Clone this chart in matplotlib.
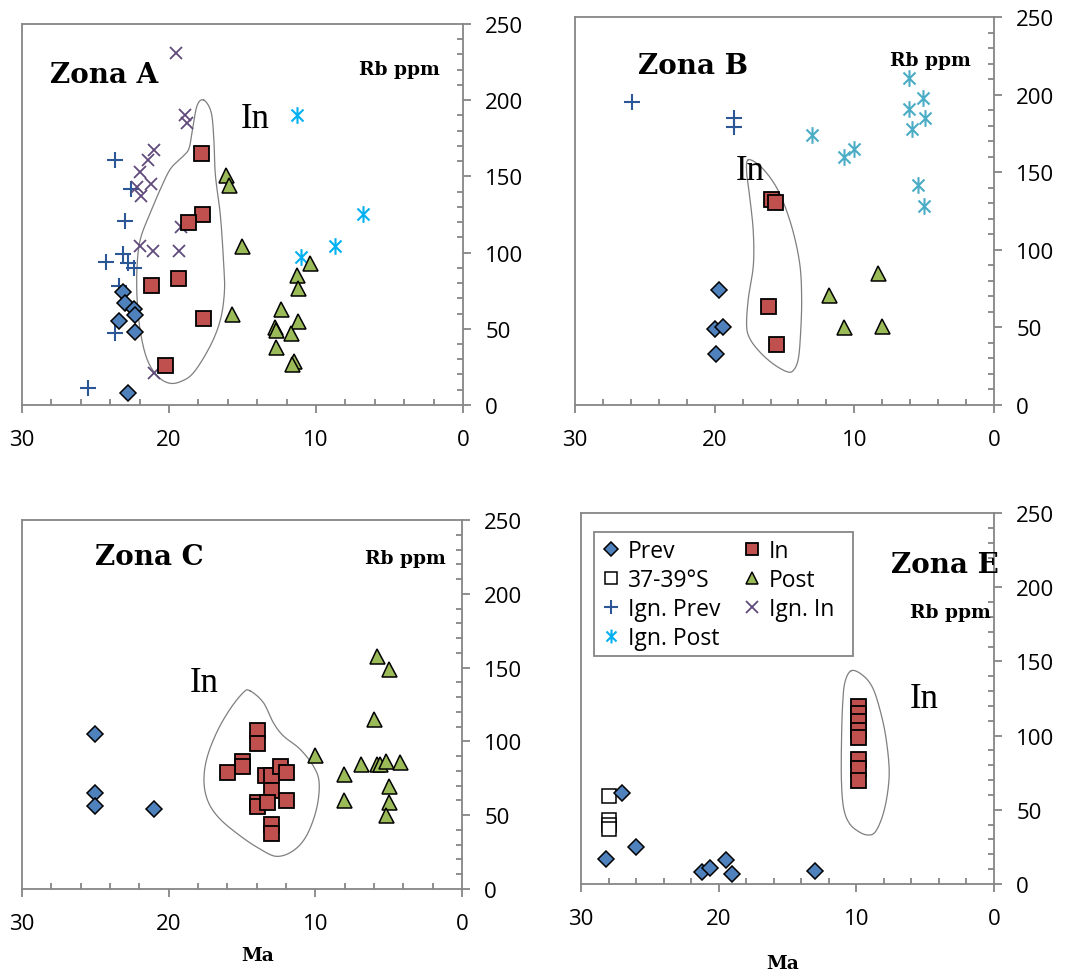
import numpy as np
import matplotlib
matplotlib.use("Agg")
import matplotlib.pyplot as plt
from matplotlib.path import Path
from matplotlib.lines import Line2D
from matplotlib.patches import Rectangle
from matplotlib.ticker import MultipleLocator

# ---------------- data ----------------
# Zona A
A_prev_x = [23.1, 23.0, 22.4, 22.3, 23.4, 22.3, 22.8]
A_prev_y = [74, 67, 63, 59, 55, 48, 8]
A_in_x = [17.8, 17.75, 18.7, 21.2, 19.4, 17.7, 20.3]
A_in_y = [165, 125, 120, 79, 83, 57, 26]
A_post_x = [16.1, 15.9, 15.0, 15.7, 10.4, 11.3, 11.2, 12.35, 11.2, 12.8, 12.75, 12.7, 11.7, 11.5, 11.6]
A_post_y = [151, 144, 104, 60, 93, 85, 77, 63, 55, 51, 49, 38, 47, 29, 27]
A_ignprev_x = [23.7, 22.6, 23.0, 23.1, 24.3, 22.8, 22.4, 23.4, 23.7, 25.5]
A_ignprev_y = [161, 142, 121, 99, 94, 93, 90, 78, 47, 11]
A_ignin_x = [19.5, 18.9, 18.8, 21.0, 21.4, 22.0, 21.2, 22.2, 21.9, 19.2, 22.0, 21.1, 19.3, 21.0]
A_ignin_y = [231, 190, 185, 167, 161, 153, 145, 143, 137, 117, 104, 101, 101, 21]
A_ignpost_x = [11.3, 6.8, 8.7, 11.05]
A_ignpost_y = [190, 125, 104, 97]
A_out_x = [17.63, 17.13, 16.95, 16.84, 16.50, 16.27, 16.23, 16.50, 17.18, 18.31, 19.22, 20.02,
           20.81, 21.49, 21.94, 22.17, 22.17, 21.94, 21.26, 20.58, 19.90, 19.11, 18.65, 18.43, 18.09]
A_out_y = [200, 192, 174.5, 150.5, 124, 91, 74, 56, 39, 21.4, 15.3, 14.4,
           19.2, 30, 47.7, 69.6, 91.4, 109, 126.4, 141.7, 154.9, 162.5, 168, 179, 196.4]

# Zona B
B_prev_x = [19.7, 20.0, 19.4, 19.9]
B_prev_y = [74, 49, 50, 33]
B_in_x = [16.0, 15.7, 16.2, 15.6]
B_in_y = [133, 131, 64, 39]
B_post_x = [8.33, 11.8, 10.74, 8.0]
B_post_y = [85, 71, 50, 51]
B_ignprev_x = [25.9, 18.6, 18.6]
B_ignprev_y = [195, 185, 179]
B_ignpost_x = [6.1, 5.06, 6.06, 4.94, 5.9, 13.0, 10.0, 10.74, 5.42, 4.99]
B_ignpost_y = [211, 198, 191, 185, 178, 174, 165, 160, 142, 128]
B_out_x = [17.59, 16.75, 15.80, 15.08, 14.37, 13.89, 13.77, 13.84, 14.01, 14.37, 14.84, 15.80,
           16.75, 17.47, 17.71, 17.59, 17.23, 17.23, 17.47, 17.71]
B_out_y = [158, 154, 143.6, 130.7, 111.3, 89.8, 68.4, 46.9, 29.7, 22.2, 21.5, 26.4,
           34.0, 42.6, 51.2, 68.4, 89.8, 111.3, 132.8, 150]

# Zona C
C_prev_x = [25.0, 25.0, 25.0, 21.0]
C_prev_y = [105, 65, 56, 54]
C_in_x = [14.0, 14.0, 15.0, 15.0, 16.0, 13.4, 13.0, 12.4, 12.0, 13.0, 14.0, 14.0, 13.3, 12.0, 13.0, 13.0]
C_in_y = [108, 99, 87, 83, 79, 77, 77, 83, 79, 67, 59, 56, 59, 60, 44, 38]
C_post_x = [5.77, 5.0, 6.0, 10.03, 8.03, 8.03, 6.9, 5.77, 5.56, 5.2, 4.2, 5.0, 5.0, 5.2]
C_post_y = [158, 149, 115, 91, 78, 60, 85, 85, 85, 87, 86, 70, 59, 50]
C_out_x = [14.46, 13.55, 12.87, 12.19, 11.05, 10.15, 9.74, 9.92, 10.60, 11.51, 12.64, 13.78,
           15.14, 16.50, 17.29, 17.59, 17.41, 16.73, 15.82, 14.91]
C_out_y = [134.3, 126.4, 112.8, 103.8, 94.8, 83.5, 72.2, 54.2, 36.1, 25.9, 22.1, 27.1,
           36.1, 47.4, 58.7, 72.2, 88.0, 106.0, 121.8, 133.1]

# Zona E
E_prev_x = [27.0, 26.0, 28.2, 21.2, 20.6, 19.5, 19.0, 13.0]
E_prev_y = [61, 25, 17, 8, 11, 16, 7, 9]
E_s37_x = [28.0, 28.0, 28.0, 28.0]
E_s37_y = [59, 43, 40, 37]
E_in_x = [9.9, 9.9, 9.9, 9.9, 9.9, 9.9, 9.9, 9.9]
E_in_y = [120, 115, 110, 104, 99, 84, 78, 70]
E_out_x = [10.35, 9.50, 8.77, 8.17, 7.80, 7.61, 7.80, 8.17, 8.65, 9.14, 9.74, 10.47, 10.91,
           11.08, 11.08, 11.00, 10.83]
E_out_y = [143.8, 140.4, 131.4, 113.4, 95.5, 75.2, 57.3, 43.8, 34.8, 33.0, 34.8, 40.4, 50.5,
           68.5, 95.5, 120.2, 135.9]

panel_titles = ["Zona A", "Zona B", "Zona C", "Zona E"]
y_label = "Rb ppm"
x_label = "Ma"
region_label = "In"
legend_labels = ["Prev", "37-39°S", "Ign. Prev", "Ign. Post", "In", "Post", "Ign. In"]

# ---------------- styles ----------------
C_PREV = "#4F81BD"
C_IN = "#C0504D"
C_POST = "#9BBB59"
C_IGNPREV = "#2B5797"
C_IGNIN = "#604A7B"
C_IGNPOST_A = "#00B0F0"
C_IGNPOST_B = "#4BACC6"
GRAY = "#868686"

ast_path = Path([(0, -1), (0, 1), (-0.72, -0.72), (0.72, 0.72), (-0.72, 0.72), (0.72, -0.72)],
                [Path.MOVETO, Path.LINETO, Path.MOVETO, Path.LINETO, Path.MOVETO, Path.LINETO])

ST = {
    "prev": dict(marker="D", ms=8.5, mfc=C_PREV, mec="black", mew=1.1, ls="none"),
    "s37": dict(marker="s", ms=10.0, mfc="white", mec="black", mew=1.1, ls="none"),
    "in": dict(marker="s", ms=10.8, mfc=C_IN, mec="black", mew=1.3, ls="none"),
    "post": dict(marker="^", ms=10.8, mfc=C_POST, mec="black", mew=1.1, ls="none"),
    "ignprev": dict(marker="+", ms=11, mec=C_IGNPREV, mew=1.5, ls="none"),
    "ignin": dict(marker="x", ms=8.5, mec=C_IGNIN, mew=1.3, ls="none"),
    "ignpostA": dict(marker=ast_path, ms=12, mfc="none", mec=C_IGNPOST_A, mew=1.5, ls="none"),
    "ignpostB": dict(marker=ast_path, ms=12, mfc="none", mec=C_IGNPOST_B, mew=1.5, ls="none"),
}

SANS = "Open Sans"
SERIF_B = "DejaVu Serif"
SERIF = "Liberation Serif"
TITLE_FS = 20
RB_FS = 13.5
IN_FS = 25


def smooth_closed(x, y, n=12):
    x = np.asarray(x, float)
    y = np.asarray(y, float)
    N = len(x)
    xs, ys = [], []
    for i in range(N):
        p0 = np.array([x[i - 1], y[i - 1]])
        p1 = np.array([x[i], y[i]])
        p2 = np.array([x[(i + 1) % N], y[(i + 1) % N]])
        p3 = np.array([x[(i + 2) % N], y[(i + 2) % N]])
        for t in np.linspace(0, 1, n, endpoint=False):
            t2, t3 = t * t, t * t * t
            pt = 0.5 * ((2 * p1) + (-p0 + p2) * t + (2 * p0 - 5 * p1 + 4 * p2 - p3) * t2
                        + (-p0 + 3 * p1 - 3 * p2 + p3) * t3)
            xs.append(pt[0])
            ys.append(pt[1])
    xs.append(xs[0])
    ys.append(ys[0])
    return xs, ys


def setup(ax):
    ax.set_xlim(30, 0)
    ax.set_ylim(0, 250)
    ax.yaxis.tick_right()
    ax.xaxis.set_major_locator(MultipleLocator(10))
    ax.xaxis.set_minor_locator(MultipleLocator(2))
    ax.yaxis.set_major_locator(MultipleLocator(50))
    ax.yaxis.set_minor_locator(MultipleLocator(10))
    for s in ax.spines.values():
        s.set_color(GRAY)
        s.set_linewidth(1.3)
    ax.tick_params(axis="both", which="major", direction="out", length=6, width=1.3,
                   color=GRAY, labelsize=16, labelcolor="black")
    ax.tick_params(axis="both", which="minor", direction="in", length=4.5, width=1.3, color=GRAY)
    ax.tick_params(axis="x", which="major", pad=11)
    ax.tick_params(axis="y", which="major", pad=10)
    for lab in ax.get_xticklabels() + ax.get_yticklabels():
        lab.set_fontfamily(SANS)


def title(ax, x, y, s, fs, bold=True, family=SERIF_B):
    ax.text(x, y, s, fontfamily=family, fontweight="bold" if bold else "normal",
            fontsize=fs, va="center", ha="left")


fig = plt.figure(figsize=(10.83, 9.78), dpi=100)
axA = fig.add_axes([0.0203, 0.5849, 0.4072, 0.3896])
axB = fig.add_axes([0.5309, 0.5849, 0.3869, 0.3967])
axC = fig.add_axes([0.0203, 0.0900, 0.4063, 0.3773])
axE = fig.add_axes([0.5365, 0.0951, 0.3813, 0.3793])

for ax in (axA, axB, axC, axE):
    setup(ax)

outline_kw = dict(color="#7F7F7F", lw=0.9, zorder=1)

# Zona A
ox, oy = smooth_closed(A_out_x, A_out_y)
axA.plot(ox, oy, **outline_kw)
axA.plot(A_ignprev_x, A_ignprev_y, **ST["ignprev"])
axA.plot(A_ignin_x, A_ignin_y, **ST["ignin"])
axA.plot(A_ignpost_x, A_ignpost_y, **ST["ignpostA"])
axA.plot(A_prev_x, A_prev_y, **ST["prev"])
axA.plot(A_in_x, A_in_y, **ST["in"])
axA.plot(A_post_x, A_post_y, **ST["post"])
title(axA, 28.1, 217, panel_titles[0], TITLE_FS)
title(axA, 7.1, 220.5, y_label, RB_FS)
title(axA, 15.14, 188, region_label, IN_FS, bold=False, family=SERIF)

# Zona B
ox, oy = smooth_closed(B_out_x, B_out_y)
axB.plot(ox, oy, **outline_kw)
axB.plot(B_ignprev_x, B_ignprev_y, **ST["ignprev"])
axB.plot(B_ignpost_x, B_ignpost_y, **ST["ignpostB"])
axB.plot(B_prev_x, B_prev_y, **ST["prev"])
axB.plot(B_in_x, B_in_y, **ST["in"])
axB.plot(B_post_x, B_post_y, **ST["post"])
title(axB, 25.5, 219, panel_titles[1], TITLE_FS)
title(axB, 7.45, 222, y_label, RB_FS)
title(axB, 18.48, 151, region_label, IN_FS, bold=False, family=SERIF)

# Zona C
ox, oy = smooth_closed(C_out_x, C_out_y)
axC.plot(ox, oy, **outline_kw)
axC.plot(C_prev_x, C_prev_y, **ST["prev"])
axC.plot(C_in_x, C_in_y, **ST["in"])
axC.plot(C_post_x, C_post_y, **ST["post"])
title(axC, 25.0, 225, panel_titles[2], TITLE_FS)
title(axC, 6.62, 224, y_label, RB_FS)
title(axC, 18.55, 140, region_label, IN_FS, bold=False, family=SERIF)
axC.set_xlabel(x_label, fontfamily=SERIF_B, fontweight="bold", fontsize=RB_FS)
axC.xaxis.set_label_coords(0.536, -0.155)

# Zona E
ox, oy = smooth_closed(E_out_x, E_out_y)
axE.plot(ox, oy, **outline_kw)
axE.plot(E_s37_x, E_s37_y, **ST["s37"])
axE.plot(E_prev_x, E_prev_y, **ST["prev"])
axE.plot(E_in_x, E_in_y, **ST["in"])
title(axE, 7.45, 215.5, panel_titles[3], TITLE_FS)
title(axE, 6.1, 183, y_label, RB_FS)
title(axE, 6.1, 125, region_label, IN_FS, bold=False, family=SERIF)
axE.set_xlabel(x_label, fontfamily=SERIF_B, fontweight="bold", fontsize=RB_FS)
axE.xaxis.set_label_coords(0.487, -0.19)


# Legend
def h(key, **over):
    kw = dict(ST[key])
    kw.update(over)
    return Line2D([], [], **kw)


handles = [h("prev", ms=7), h("s37", ms=9), h("ignprev", ms=10), h("ignpostA", ms=10),
           h("in", ms=9), h("post", ms=9), h("ignin", ms=8)]
leg = axE.legend(handles, legend_labels, ncol=2, loc="upper left",
                 bbox_to_anchor=(0.031, 0.949), borderaxespad=0, frameon=False,
                 handlelength=0.9, handletextpad=0.3,
                 columnspacing=0.9, labelspacing=0.22, borderpad=0.3,
                 prop=dict(family=SANS, size=16.5))
frame = Rectangle((594 / 1083, 1 - 657 / 978), 259 / 1083, 124 / 978,
                  transform=fig.transFigure, facecolor="none", edgecolor=GRAY,
                  linewidth=1.3, zorder=6, clip_on=False)
axE.add_patch(frame)

fig.savefig("out.png", dpi=100)
